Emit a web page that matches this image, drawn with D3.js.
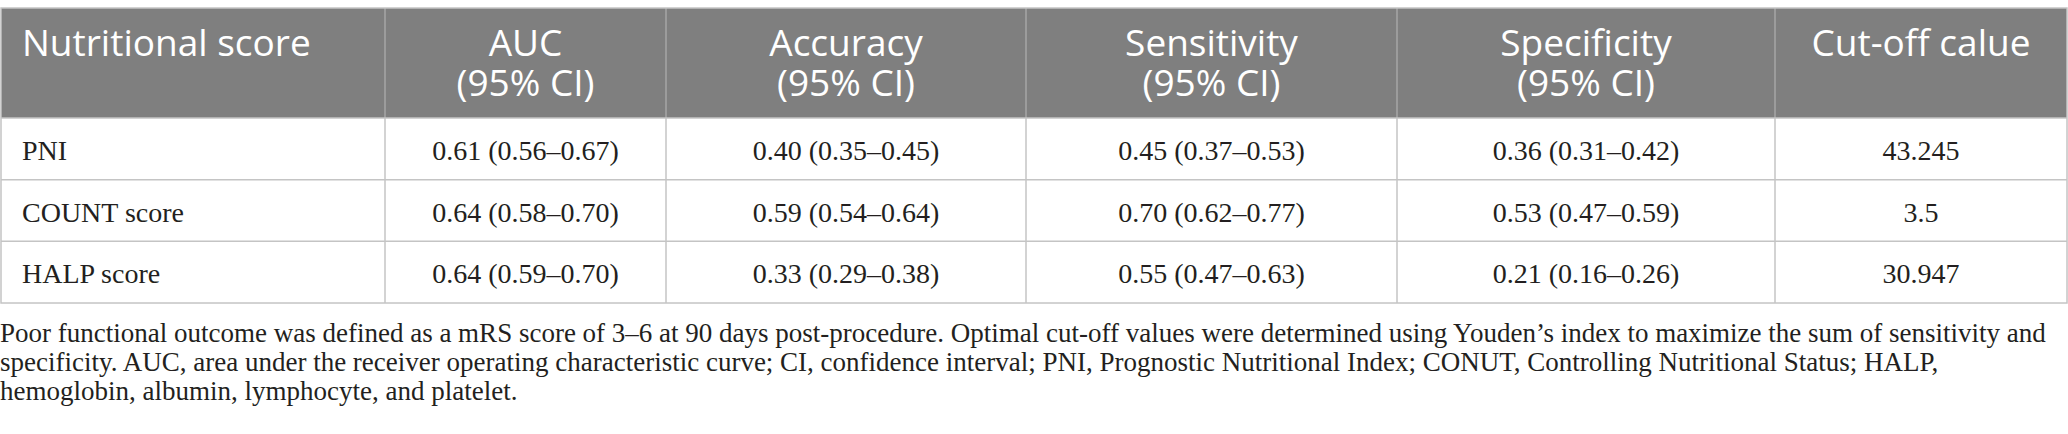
<!DOCTYPE html>
<html>
<head>
<meta charset="utf-8">
<script src="https://cdn.jsdelivr.net/npm/d3@7"></script>
<style>
  body { margin: 0; background: #ffffff; }
  .head { font-family: "Open Sans", "Noto Sans", sans-serif; fill: #ffffff; }
  .cell { font-family: "Liberation Serif", "DejaVu Serif", serif; fill: #231f20; }
  .note { font-family: "Liberation Serif", "DejaVu Serif", serif; fill: #231f20; }
</style>
</head>
<body>
<script>

// table data
var headers = [["Nutritional score"], ["AUC", "(95% CI)"], ["Accuracy", "(95% CI)"],
               ["Sensitivity", "(95% CI)"], ["Specificity", "(95% CI)"], ["Cut-off calue"]];
var scores = ["PNI", "COUNT score", "HALP score"];
var auc = ["0.61 (0.56–0.67)", "0.64 (0.58–0.70)", "0.64 (0.59–0.70)"];
var accuracy = ["0.40 (0.35–0.45)", "0.59 (0.54–0.64)", "0.33 (0.29–0.38)"];
var sensitivity = ["0.45 (0.37–0.53)", "0.70 (0.62–0.77)", "0.55 (0.47–0.63)"];
var specificity = ["0.36 (0.31–0.42)", "0.53 (0.47–0.59)", "0.21 (0.16–0.26)"];
var cutoff = ["43.245", "3.5", "30.947"];
var footnote = [
  "Poor functional outcome was defined as a mRS score of 3–6 at 90 days post-procedure. Optimal cut-off values were determined using Youden’s index to maximize the sum of sensitivity and",
  "specificity. AUC, area under the receiver operating characteristic curve; CI, confidence interval; PNI, Prognostic Nutritional Index; CONUT, Controlling Nutritional Status; HALP,",
  "hemoglobin, albumin, lymphocyte, and platelet."
];

window.onload = function() {

  var width = 2068, height = 434;
  var tableTop = 8, headBottom = 118, tableBottom = 303;

  // column edges (layout only)
  var colEdges = [1, 385, 666, 1026, 1397, 1775, 2067];
  var columns = [scores, auc, accuracy, sensitivity, specificity, cutoff];

  var svg = d3.select("body")
              .append("svg")
              .attr("width", width)
              .attr("height", height);

  // row scale
  var yScale = d3.scaleBand()
                 .domain(scores)
                 .range([headBottom, tableBottom]);

  // header background
  svg.append("rect")
     .attr("x", colEdges[0])
     .attr("y", tableTop)
     .attr("width", colEdges[6] - colEdges[0])
     .attr("height", headBottom - tableTop)
     .attr("fill", "#7f7f7f");

  // horizontal row lines
  svg.selectAll("line.row")
     .data(scores.slice(1))
     .enter()
     .append("line")
     .attr("x1", colEdges[0])
     .attr("x2", colEdges[6])
     .attr("y1", function(d) { return yScale(d); })
     .attr("y2", function(d) { return yScale(d); })
     .attr("stroke", "#c4c4c4")
     .attr("stroke-width", 1.5);

  // vertical dividers, lighter inside header
  var inner = colEdges.slice(1, 6);
  svg.selectAll("line.hdiv")
     .data(inner)
     .enter()
     .append("line")
     .attr("x1", function(d) { return d; })
     .attr("x2", function(d) { return d; })
     .attr("y1", tableTop)
     .attr("y2", headBottom)
     .attr("stroke", "#a6a6a6")
     .attr("stroke-width", 1.5);

  svg.selectAll("line.bdiv")
     .data(inner)
     .enter()
     .append("line")
     .attr("x1", function(d) { return d; })
     .attr("x2", function(d) { return d; })
     .attr("y1", headBottom)
     .attr("y2", tableBottom)
     .attr("stroke", "#c4c4c4")
     .attr("stroke-width", 1.5);

  // outer border
  svg.append("rect")
     .attr("x", colEdges[0])
     .attr("y", tableTop)
     .attr("width", colEdges[6] - colEdges[0])
     .attr("height", tableBottom - tableTop)
     .attr("fill", "none")
     .attr("stroke", "#c4c4c4")
     .attr("stroke-width", 1.5);

  svg.append("line")
     .attr("x1", colEdges[0])
     .attr("x2", colEdges[6])
     .attr("y1", headBottom)
     .attr("y2", headBottom)
     .attr("stroke", "#c4c4c4")
     .attr("stroke-width", 1.5);

  // header text
  headers.forEach(function(lines, i) {
    var left = i == 0;
    var x = left ? colEdges[0] + 21 : (colEdges[i] + colEdges[i + 1]) / 2;
    svg.selectAll(null)
       .data(lines)
       .enter()
       .append("text")
       .attr("class", "head")
       .attr("x", x)
       .attr("y", function(d, j) { return 56 + j * 40; })
       .attr("text-anchor", left ? "start" : "middle")
       .attr("font-size", 37)
       .text(function(d) { return d; });
  });

  // body cells
  columns.forEach(function(col, i) {
    var left = i == 0;
    var x = left ? colEdges[0] + 21 : (colEdges[i] + colEdges[i + 1]) / 2;
    svg.selectAll(null)
       .data(col)
       .enter()
       .append("text")
       .attr("class", "cell")
       .attr("x", x)
       .attr("y", function(d, j) { return yScale(scores[j]) + yScale.bandwidth() / 2 + 11; })
       .attr("text-anchor", left ? "start" : "middle")
       .attr("font-size", 28)
       .text(function(d) { return d; });
  });

  // footnote
  svg.selectAll("text.note")
     .data(footnote)
     .enter()
     .append("text")
     .attr("class", "note")
     .attr("x", 0)
     .attr("y", function(d, i) { return 342 + i * 29; })
     .attr("font-size", 27)
     .text(function(d) { return d; });
};
</script>
</body>
</html>
